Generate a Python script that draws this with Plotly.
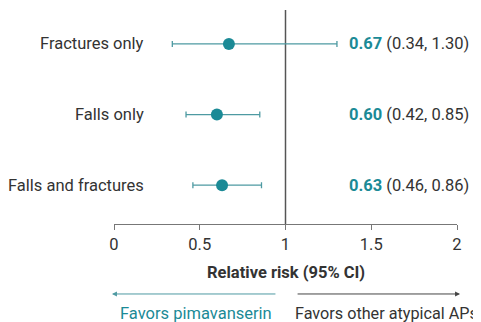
import plotly.graph_objects as go

categories = ["Falls and fractures", "Falls only", "Fractures only"]
rr = [0.63, 0.60, 0.67]
ci_low = [0.46, 0.42, 0.34]
ci_high = [0.86, 0.85, 1.30]
x_ticks = [0, 0.5, 1, 1.5, 2]
x_tick_labels = ["0", "0.5", "1", "1.5", "2"]

TEAL = "#1b8a96"
TEAL_LINE = "#4e9aa2"
DARK = "#333333"
FONT = "Roboto"
FS = 16.5

fig = go.Figure()
fig.add_trace(go.Scatter(
    x=rr, y=categories, mode="markers",
    marker=dict(color=TEAL, size=12),
    error_x=dict(type="data", symmetric=False,
                 array=[h - r for h, r in zip(ci_high, rr)],
                 arrayminus=[r - l for r, l in zip(rr, ci_low)],
                 color=TEAL_LINE, thickness=1.3, width=3),
    showlegend=False, hoverinfo="skip",
))

# reference line at 1
fig.add_shape(type="line", xref="x", yref="paper", x0=1, x1=1, y0=0, y1=1,
              line=dict(color="#555555", width=1.5), layer="below")

annotations = []
for c, r, l, h in zip(categories, rr, ci_low, ci_high):
    annotations.append(dict(x=0.185, y=c, xref="x", yref="y", xanchor="right",
                            text=c, showarrow=False,
                            font=dict(family=FONT, size=FS, color=DARK)))
    annotations.append(dict(x=1.36, y=c, xref="x", yref="y", xanchor="left",
                            text=f"<b><span style='color:{TEAL}'>{r:.2f}</span></b> ({l:.2f}, {h:.2f})",
                            showarrow=False,
                            font=dict(family=FONT, size=FS, color=DARK)))

# direction arrows
annotations.append(dict(x=-0.006, y=-0.327, xref="paper", yref="paper", text="",
                        showarrow=True, ax=165, ay=0, axref="pixel", ayref="pixel",
                        arrowhead=2, arrowsize=1, arrowwidth=1, arrowcolor=TEAL_LINE))
annotations.append(dict(x=1.009, y=-0.327, xref="paper", yref="paper", text="",
                        showarrow=True, ax=-164, ay=0, axref="pixel", ayref="pixel",
                        arrowhead=2, arrowsize=1, arrowwidth=1, arrowcolor="#444444"))
annotations.append(dict(x=0.48, y=-0.42, xref="x", yref="paper", xanchor="center",
                        yanchor="middle", text="Favors pimavanserin", showarrow=False,
                        font=dict(family=FONT, size=FS, color=TEAL)))
annotations.append(dict(x=1.044, y=-0.42, xref="x", yref="paper", xanchor="left",
                        yanchor="middle", text="Favors other atypical APs", showarrow=False,
                        font=dict(family=FONT, size=16.2, color=DARK)))
annotations.append(dict(x=1.0, y=-0.225, xref="x", yref="paper", xanchor="center",
                        yanchor="middle", text="<b>Relative risk (95% CI)</b>", showarrow=False,
                        font=dict(family=FONT, size=FS, color=DARK)))

# page body has an 8px default margin, so the figure is sized/offset to compensate
fig.update_layout(
    width=473, height=314,
    margin=dict(l=106, r=24, t=2, b=98),
    paper_bgcolor="white", plot_bgcolor="white",
    font=dict(family=FONT, size=FS, color=DARK),
    annotations=annotations,
    xaxis=dict(range=[0, 2], tickvals=x_ticks, ticktext=x_tick_labels,
               showgrid=False, zeroline=False, showline=True, linecolor="#777777",
               linewidth=1.3, ticks="outside", ticklen=5, tickcolor="#777777",
               tickfont=dict(family=FONT, size=FS, color=DARK)),
    yaxis=dict(type="category", categoryorder="array", categoryarray=categories,
               range=[-0.55, 2.48], showticklabels=False, showgrid=False,
               zeroline=False, showline=False),
)

fig.write_html("out.html")
